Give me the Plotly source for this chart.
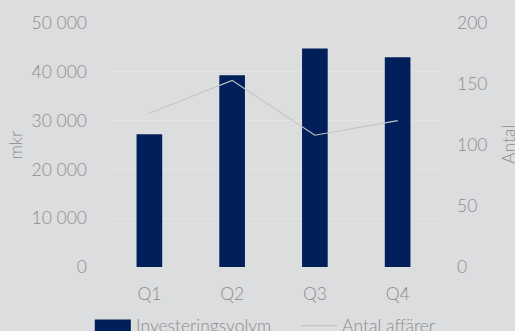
import plotly.graph_objects as go

quarters = ["Q1", "Q2", "Q3", "Q4"]
volym = [27200, 39300, 44800, 43000]
affarer = [126, 153, 108, 120]
bar_name = "Investeringsvolym"
line_name = "Antal affärer"
left_ticks = [0, 10000, 20000, 30000, 40000, 50000]
left_labels = ["0", "10 000", "20 000", "30 000", "40 000", "50 000"]
right_ticks = [0, 50, 100, 150, 200]

BG = "#dcdddf"
NAVY = "#001f5b"
LINE = "#c3c4c6"
TXT = "#8c8c8c"
FONT = dict(family="Lato", size=17.5, color=TXT, weight=300)

fig = go.Figure()
fig.add_trace(go.Bar(x=quarters, y=volym, name=bar_name, marker=dict(color=NAVY, line=dict(width=0)), yaxis="y"))
fig.add_trace(go.Scatter(x=quarters, y=affarer, name=line_name, mode="lines",
                         line=dict(color=LINE, width=1.2), yaxis="y2"))

fig.update_layout(
    width=515, height=331,
    margin=dict(l=108, r=76, t=23, b=64),
    paper_bgcolor=BG, plot_bgcolor=BG,
    font=FONT,
    showlegend=False,
    bargap=0.69,
    xaxis=dict(showgrid=False, zeroline=False, showline=False, ticks="",
               tickfont=FONT, ticklabelstandoff=14),
    yaxis=dict(range=[0, 50000], tickvals=left_ticks, ticktext=left_labels,
               showgrid=True, gridcolor="#e3e4e6", gridwidth=1, zeroline=False,
               showline=False, ticks="", tickfont=FONT, ticklabelstandoff=20),
    yaxis2=dict(range=[0, 200], tickvals=right_ticks, overlaying="y", side="right",
                showgrid=False, zeroline=False, showline=False, ticks="",
                tickfont=FONT, ticklabelstandoff=17),
)

# axis titles
fig.add_annotation(text="mkr", xref="paper", yref="paper", x=-0.28, y=0.5,
                   xanchor="center", yanchor="middle", textangle=-90,
                   showarrow=False, font=FONT)
fig.add_annotation(text="Antal", xref="paper", yref="paper", x=1.0, y=0.5,
                   xanchor="center", yanchor="middle", textangle=-90,
                   showarrow=False, font=FONT, xshift=69)

# custom legend
fig.add_shape(type="rect", xref="paper", yref="paper", x0=-0.04, x1=0.069,
              y0=-0.262, y1=-0.215, fillcolor=NAVY, line=dict(width=0))
fig.add_annotation(text=bar_name, xref="paper", yref="paper", x=0.08, y=-0.24,
                   xanchor="left", yanchor="middle", showarrow=False, font=FONT)
fig.add_shape(type="line", xref="paper", yref="paper", x0=0.583, x1=0.692,
              y0=-0.24, y1=-0.24, line=dict(color=LINE, width=1.2))
fig.add_annotation(text=line_name, xref="paper", yref="paper", x=0.702, y=-0.24,
                   xanchor="left", yanchor="middle", showarrow=False, font=FONT)

fig.write_html("out.html", config={"displayModeBar": False},
               post_script="document.body.style.margin='0';document.body.style.background='#dcdddf';document.body.style.overflow='hidden';")
